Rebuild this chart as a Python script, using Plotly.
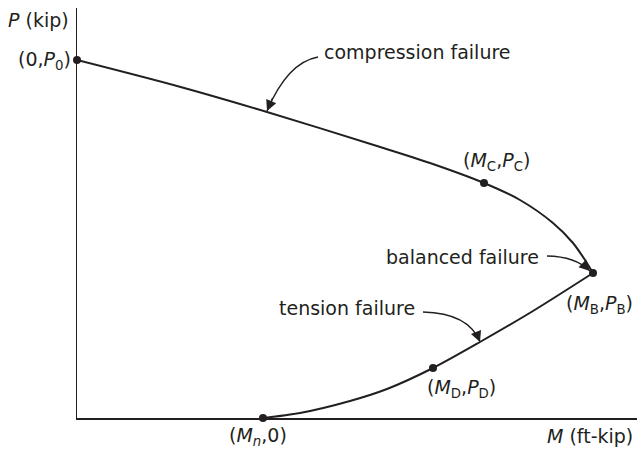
import plotly.graph_objects as go

# Interaction diagram (arbitrary units; axes carry no ticks)
comp_M = [0, 100, 190, 300, 353, 407, 443, 476, 496, 508, 516]
comp_P = [358, 332, 306, 272, 255, 235, 218, 195, 175, 158, 145]
tens_M = [516, 456, 403, 356, 310, 273, 223, 186]
tens_P = [145, 107, 76, 50, 29, 17, 5, 0]

key_M = [0, 407, 516, 356, 186]
key_P = [358, 235, 145, 50, 0]
key_labels = [
    "(0,<i>P</i><sub>0</sub>)",
    "(<i>M</i><sub>C</sub>,<i>P</i><sub>C</sub>)",
    "(<i>M</i><sub>B</sub>,<i>P</i><sub>B</sub>)",
    "(<i>M</i><sub>D</sub>,<i>P</i><sub>D</sub>)",
    "(<i>M</i><sub><i>n</i></sub>,0)",
]
x_title = "<i>M</i> (ft-kip)"
y_title = "<i>P</i> (kip)"

FONT = dict(family="DejaVu Sans", size=19, color="#231f20")
INK = "#231f20"

fig = go.Figure()
fig.add_trace(go.Scatter(x=comp_M, y=comp_P, mode="lines",
                         line=dict(color=INK, width=2, shape="spline", smoothing=0.8),
                         hoverinfo="skip"))
fig.add_trace(go.Scatter(x=tens_M, y=tens_P, mode="lines",
                         line=dict(color=INK, width=2, shape="spline", smoothing=0.8),
                         hoverinfo="skip"))
fig.add_trace(go.Scatter(x=key_M, y=key_P, mode="markers",
                         marker=dict(color=INK, size=8), hoverinfo="skip",
                         cliponaxis=False))

# label placement (pixel offsets from each point)
label_pos = [
    dict(xanchor="right", xshift=-4, yshift=0),
    dict(xanchor="center", xshift=12, yshift=22),
    dict(xanchor="left", xshift=-29, yshift=-31),
    dict(xanchor="center", xshift=28, yshift=-20),
    dict(xanchor="center", xshift=-5, yshift=-18),
]
annotations = []
for m, p, lab, pos in zip(key_M, key_P, key_labels, label_pos):
    annotations.append(dict(x=m, y=p, xref="x", yref="y", text=lab, showarrow=False,
                            yanchor="middle", font=FONT, **pos))

annotations.append(dict(x=0, y=398, xref="x", yref="y", text=y_title, showarrow=False,
                        xanchor="right", yanchor="middle", xshift=-6, font=FONT))
annotations.append(dict(x=560, y=0, xref="x", yref="y", text=x_title, showarrow=False,
                        xanchor="right", yanchor="middle", xshift=-2, yshift=-18, font=FONT))

# region labels with curved leader arrows: (text, text anchor, start, control, tip)
leaders = [
    ("compression failure", (245, 366, "left"), (241, 361), (210.5, 355.5), (190, 307)),
    ("balanced failure", (464, 161, "right"), (470, 162), (498.5, 161.5), (513, 147)),
    ("tension failure", (340, 110, "right"), (346, 106), (391.5, 105), (403, 76)),
]
shapes = []
for text, (tx, ty, anc), s, c, t in leaders:
    annotations.append(dict(x=tx, y=ty, xref="x", yref="y", text=text, showarrow=False,
                            xanchor=anc, yanchor="middle", font=FONT))
    shapes.append(dict(type="path", xref="x", yref="y",
                       path=f"M {s[0]},{s[1]} Q {c[0]},{c[1]} {t[0]},{t[1]}",
                       line=dict(color=INK, width=1.3)))
    # arrow head along the end tangent
    ax = t[0] - 0.3 * (t[0] - c[0])
    ay = t[1] - 0.3 * (t[1] - c[1])
    annotations.append(dict(x=t[0], y=t[1], ax=ax, ay=ay, xref="x", yref="y",
                            axref="x", ayref="y", text="", showarrow=True,
                            arrowhead=2, arrowsize=1.8, arrowwidth=1.2,
                            arrowcolor=INK, standoff=0))

fig.update_layout(
    width=641, height=451,
    margin=dict(l=77, r=4, t=8, b=33),
    paper_bgcolor="white", plot_bgcolor="white",
    showlegend=False,
    annotations=annotations,
    shapes=shapes,
    xaxis=dict(range=[0, 560], showgrid=False, zeroline=False, showticklabels=False,
               ticks="", showline=True, linecolor=INK, linewidth=1.5, fixedrange=True),
    yaxis=dict(range=[0, 410], showgrid=False, zeroline=False, showticklabels=False,
               ticks="", showline=True, linecolor=INK, linewidth=1.5, fixedrange=True),
)
fig.write_html("out.html", config={"displayModeBar": False, "staticPlot": True},
               post_script="document.body.style.margin='0';document.body.style.overflow='hidden';")
